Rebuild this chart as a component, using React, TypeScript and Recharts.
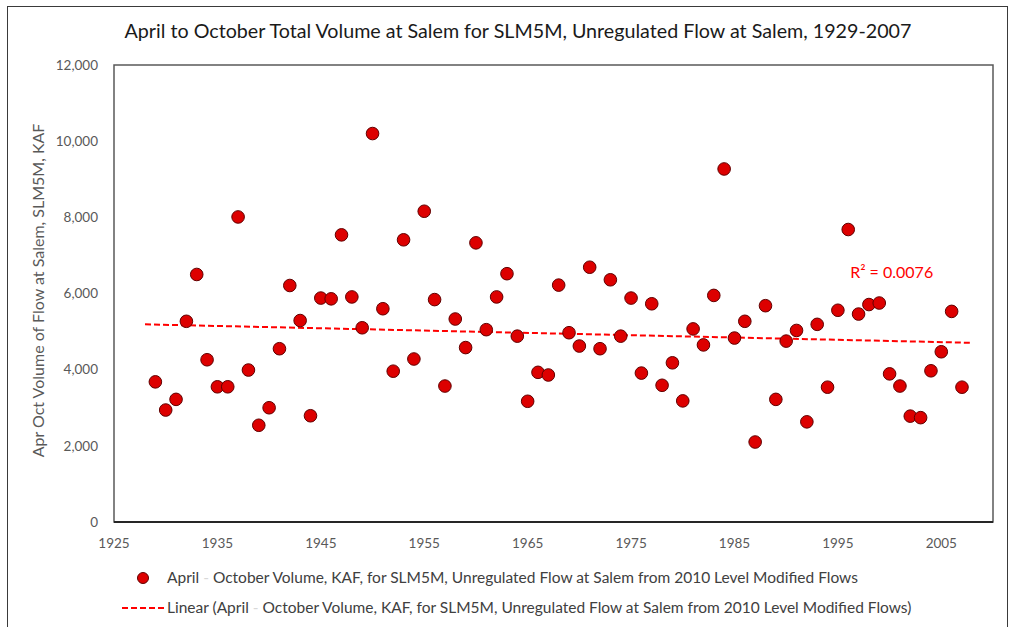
import { ReferenceArea, ReferenceDot, Scatter, ScatterChart, XAxis, YAxis, Label } from 'recharts';

const years = [
  1929, 1930, 1931, 1932, 1933, 1934, 1935, 1936, 1937, 1938, 1939, 1940, 1941, 1942, 1943, 1944,
  1945, 1946, 1947, 1948, 1949, 1950, 1951, 1952, 1953, 1954, 1955, 1956, 1957, 1958, 1959, 1960,
  1961, 1962, 1963, 1964, 1965, 1966, 1967, 1968, 1969, 1970, 1971, 1972, 1973, 1974, 1975, 1976,
  1977, 1978, 1979, 1980, 1981, 1982, 1983, 1984, 1985, 1986, 1987, 1988, 1989, 1990, 1991, 1992,
  1993, 1994, 1995, 1996, 1997, 1998, 1999, 2000, 2001, 2002, 2003, 2004, 2005, 2006, 2007,
];

const volumes = [
  3680, 2940, 3220, 5270, 6500, 4260, 3550, 3550, 8010, 3990, 2540, 3000, 4550, 6210, 5290, 2790,
  5880, 5860, 7540, 5910, 5100, 10200, 5600, 3960, 7410, 4280, 8160, 5840, 3570, 5330, 4580, 7330,
  5050, 5910, 6520, 4880, 3170, 3930, 3860, 6220, 4970, 4620, 6690, 4550, 6360, 4880, 5880, 3910,
  5730, 3590, 4180, 3180, 5070, 4650, 5950, 9270, 4830, 5270, 2100, 5680, 3220, 4750, 5030, 2630,
  5190, 3540, 5560, 7680, 5460, 5710, 5750, 3890, 3570, 2780, 2740, 3970, 4470, 5530, 3540,
];

// end points of the linear trend line
const trendYears = [1928, 2008];
const trendVolumes = [5190, 4705];

const xTicks = [1925, 1935, 1945, 1955, 1965, 1975, 1985, 1995, 2005];
const yTicks = [0, 2000, 4000, 6000, 8000, 10000, 12000];

const TITLE = 'April to October Total Volume at Salem for SLM5M, Unregulated Flow at Salem, 1929-2007';
const Y_LABEL = 'Apr  Oct Volume of Flow at Salem, SLM5M, KAF';
const SERIES_TAIL = 'October Volume, KAF, for SLM5M, Unregulated Flow at Salem from 2010 Level Modified Flows';
const R2_TEXT = 'R² = 0.0076';

const FONT = 'Lato, "Open Sans", sans-serif';
const TICK = { fill: '#595959', fontSize: 13.5, fontFamily: FONT };

const points = years.map((year, i) => ({ year, volume: volumes[i] }));
const trend = trendYears.map((year, i) => ({ year, volume: trendVolumes[i] }));

function Dot(props: any) {
  if (props.cx == null || props.cy == null) return <g />;
  return <circle cx={props.cx} cy={props.cy} r={6.3} fill="#dd0000" stroke="#600000" strokeWidth={1} />;
}

function YTitle(props: any) {
  const vb = props.viewBox ?? { x: 0, y: 0, width: 0, height: 0 };
  const cx = vb.x + 3;
  const cy = vb.y + vb.height / 2 - 3;
  return (
    <text
      x={cx}
      y={cy}
      transform={`rotate(-90 ${cx} ${cy})`}
      textAnchor="middle"
      dominantBaseline="central"
      fill="#595959"
      fontSize={16}
      fontFamily={FONT}
    >
      {Y_LABEL}
    </text>
  );
}

export default function App() {
  return (
    <div style={{ position: 'fixed', left: 0, top: 0, width: 1016, height: 627, overflow: 'hidden', background: '#fff', fontFamily: FONT }}>
      <div style={{ position: 'absolute', left: 7, top: 6, width: 999, height: 640, border: '1.5px solid #3a3a3a' }} />
      <div style={{ position: 'absolute', left: 0, top: 19, width: 1036, textAlign: 'center', fontSize: 19.7, color: '#1a1a1a' }}>
        {TITLE}
      </div>
      <div style={{ position: 'absolute', left: 0, top: 0 }}>
        <ScatterChart width={1016} height={627} margin={{ top: 65, right: 23, bottom: 75, left: 34 }}>
          <XAxis
            type="number"
            dataKey="year"
            domain={[1925, 2010]}
            ticks={xTicks}
            tickLine={false}
            tickMargin={10}
            height={30}
            axisLine={{ stroke: '#262626', strokeWidth: 2 }}
            tick={TICK}
          />
          <YAxis
            type="number"
            dataKey="volume"
            domain={[0, 12000]}
            ticks={yTicks}
            width={80}
            tickLine={false}
            tickMargin={10}
            axisLine={false}
            tick={TICK}
            tickFormatter={(v: number) => v.toLocaleString('en-US')}
          >
            <Label content={<YTitle />} />
          </YAxis>
          <ReferenceArea x1={1925} x2={2010} y1={0} y2={12000} fill="none" stroke="#595959" strokeWidth={1.5} />
          <Scatter
            data={trend}
            isAnimationActive={false}
            shape={() => <g />}
            line={{ stroke: '#ff0000', strokeWidth: 2, strokeDasharray: '6 3' }}
          />
          <Scatter data={points} isAnimationActive={false} shape={<Dot />} />
          <ReferenceDot
            x={2000.2}
            y={6550}
            r={0}
            fill="none"
            stroke="none"
            label={{ value: R2_TEXT, fill: '#ff0000', fontSize: 16, fontFamily: FONT, position: 'center' }}
          />
        </ScatterChart>
      </div>
      <div style={{ position: 'absolute', left: 0, top: 568, fontSize: 15.5, color: '#404040', whiteSpace: 'nowrap' }}>
        <div style={{ position: 'absolute', left: 137, top: 4, width: 12, height: 12, borderRadius: 6, background: '#dd0000', boxSizing: 'border-box', border: '1px solid #600000' }} />
        <div style={{ position: 'absolute', left: 167, top: 0 }}>
          April <span style={{ color: '#d8d8d8' }}>-</span> {SERIES_TAIL}
        </div>
      </div>
      <div style={{ position: 'absolute', left: 0, top: 598, fontSize: 15.5, color: '#404040', whiteSpace: 'nowrap' }}>
        <svg style={{ position: 'absolute', left: 121, top: 7 }} width={44} height={6}>
          <line x1={1} y1={3} x2={43} y2={3} stroke="#ff0000" strokeWidth={2} strokeDasharray="6 3" />
        </svg>
        <div style={{ position: 'absolute', left: 167, top: 0 }}>
          Linear (April <span style={{ color: '#d8d8d8' }}>-</span> {SERIES_TAIL})
        </div>
      </div>
    </div>
  );
}
